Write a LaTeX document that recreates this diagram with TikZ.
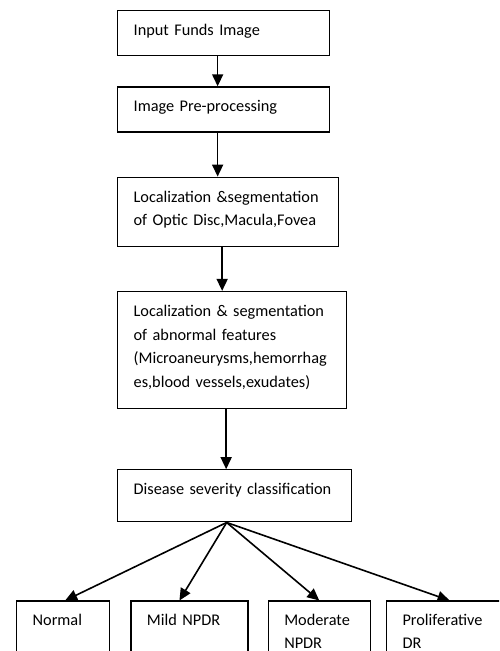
\documentclass[tikz,border=0pt]{standalone}
\usepackage{fontspec}
\setmainfont{Carlito}
\usetikzlibrary{arrows.meta, positioning}

\begin{document}
\begin{tikzpicture}[
    x=1pt, y=1pt,
    box/.style={draw, line width=1.3pt, align=left, inner xsep=16pt, inner ysep=13pt,
        text height=12pt, text depth=7pt, font=\fontsize{16.3pt}{23.7pt}\selectfont},
    leaf/.style={box, text height=11pt, text depth=30pt},
    arrow/.style={-{Triangle[length=12pt,width=11pt]}, line width=1.6pt}
]
\useasboundingbox (0,0) rectangle (499,651);
\clip (0,0) rectangle (499,651);

% Pipeline steps
\node[box, text width=180pt, anchor=north west] (input) at (117,641) {Input Funds Image};
\node[box, text width=180pt, below=30pt of input.south west, anchor=north west] (prep) {Image Pre-processing};
\node[box, text width=189pt, text depth=31pt, below=44pt of prep.south west, anchor=north west] (optic)
    {Localization \&segmentation\\of Optic Disc,Macula,Fovea};
\node[box, text width=197pt, text depth=79pt, below=44pt of optic.south west, anchor=north west] (abnormal)
    {Localization \& segmentation\\of abnormal features\\(Microaneurysms,hemorrhag\\es,blood vessels,exudates)};
\node[box, text width=202pt, text depth=14pt, below=60pt of abnormal.south west, anchor=north west] (severity)
    {Disease severity classification};

% Classes - bottom row
\node[leaf, text width=61pt, below=78pt of severity.south west, anchor=north west, xshift=-101pt] (normal) {Normal};
\node[leaf, text width=85pt, right=20pt of normal.north east, anchor=north west] (mild) {Mild NPDR};
\node[leaf, text width=70pt, right=19pt of mild.north east, anchor=north west] (moderate) {Moderate\\NPDR};
\node[leaf, text width=100pt, right=15pt of moderate.north east, anchor=north west] (prolif) {Proliferative\\DR};

% Arrows
\draw[arrow] ([xshift=-6pt]input.south) -- ([xshift=-6pt]input.south |- prep.north);
\draw[arrow] ([xshift=-6pt]prep.south) -- ([xshift=-6pt]prep.south |- optic.north);
\draw[arrow] ([xshift=-6pt]optic.south) -- ([xshift=-6pt]optic.south |- abnormal.north);
\draw[arrow] ([xshift=-6pt]abnormal.south) -- ([xshift=-6pt]abnormal.south |- severity.north);

\draw[arrow] ([xshift=-8pt]severity.south) -- ([xshift=2pt]normal.north);
\draw[arrow] ([xshift=-8pt]severity.south) -- ([xshift=-10pt]mild.north);
\draw[arrow] ([xshift=-8pt]severity.south) -- (moderate.north);
\draw[arrow] ([xshift=-8pt]severity.south) -- ([xshift=-3pt]prolif.north);

\end{tikzpicture}
\end{document}
